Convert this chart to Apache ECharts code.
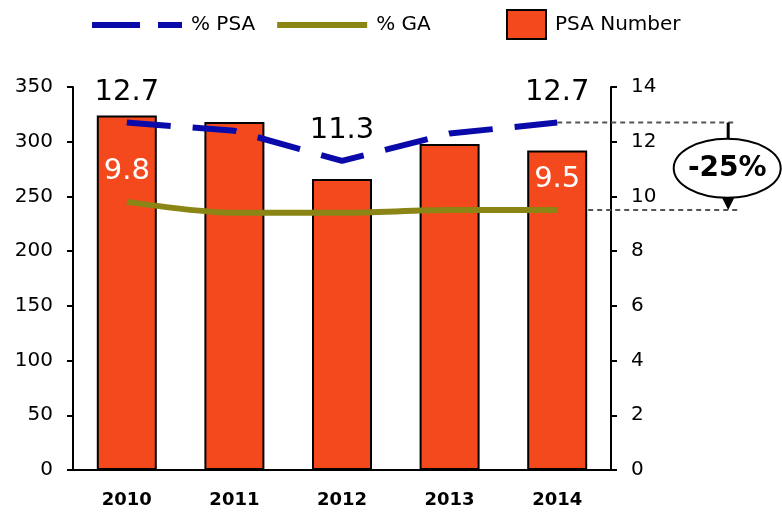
<!DOCTYPE html>
<html>
<head>
<meta charset="utf-8">
<script src="https://cdn.jsdelivr.net/npm/echarts@6/dist/echarts.min.js"></script>
<style>
  html, body { margin: 0; padding: 0; background: #fff; }
  #chart { width: 782px; height: 513px; }
</style>
</head>
<body>
<div id="chart"></div>
<script>
// data
const years = ["2010", "2011", "2012", "2013", "2014"];
const psaNumber = [324, 318, 266, 298, 292];
const psaPct = [12.7, 12.4, 11.3, 12.3, 12.7];
const gaPct = [9.8, 9.4, 9.4, 9.5, 9.5];
// which points carry a value label
const psaLabelIdx = [0, 2, 4];
const gaLabelIdx = [0, 4];

const FONT = "DejaVu Sans";
const BLUE = "#0A0AAA";
const OLIVE = "#8B8516";
const chart = echarts.init(document.getElementById("chart"));

const axisLineStyle = { show: true, lineStyle: { color: "#000", width: 2 } };
const tickStyle = { show: true, length: 6, lineStyle: { color: "#000", width: 2 } };
const legendText = { fontFamily: FONT, fontSize: 20, color: "#000", padding: [0, 0, 0, 4] };

const pickLabel = (idx) => (p) =>
  idx.includes(p.dataIndex) ? Number(p.value).toFixed(1) : "";

const option = {
  animation: false,
  backgroundColor: "#fff",
  textStyle: { fontFamily: FONT },
  grid: { left: 73, right: 171, top: 87, bottom: 43, outerBoundsMode: "none" },
  legend: [
    {
      data: [
        { name: "% PSA", icon: "path://M0,0h48v6h-48z M66,0h24v6h-24z" },
        { name: "% GA", icon: "path://M0,0h90v6h-90z" },
      ],
      left: 87,
      top: 10,
      itemWidth: 90,
      itemHeight: 6,
      itemGap: 22,
      textStyle: legendText,
    },
    {
      data: [{ name: "PSA Number", icon: "rect" }],
      left: 501,
      top: 4,
      itemWidth: 39,
      itemHeight: 29,
      textStyle: legendText,
    },
  ],
  xAxis: {
    type: "category",
    data: years,
    axisLine: axisLineStyle,
    axisTick: { show: false },
    axisLabel: { fontFamily: FONT, fontSize: 18, fontWeight: "bold", color: "#000", margin: 21 },
  },
  yAxis: [
    {
      type: "value",
      min: 0,
      max: 350,
      interval: 50,
      axisLine: axisLineStyle,
      axisTick: tickStyle,
      splitLine: { show: false },
      axisLabel: { fontFamily: FONT, fontSize: 20, color: "#000", margin: 20 },
    },
    {
      type: "value",
      min: 0,
      max: 14,
      interval: 2,
      position: "right",
      axisLine: axisLineStyle,
      axisTick: tickStyle,
      splitLine: { show: false },
      axisLabel: { fontFamily: FONT, fontSize: 20, color: "#000", margin: 20 },
    },
  ],
  series: [
    {
      name: "PSA Number",
      type: "bar",
      data: psaNumber,
      barWidth: 60,
      itemStyle: { color: "#F4491C", borderColor: "#000", borderWidth: 2 },
    },
    {
      name: "% PSA",
      type: "line",
      yAxisIndex: 1,
      data: psaPct,
      symbol: "circle",
      symbolSize: 0,
      z: 3,
      lineStyle: { color: BLUE, width: 6, type: [44, 22], cap: "butt" },
      itemStyle: { color: BLUE },
      label: {
        show: true,
        position: "top",
        distance: 16,
        fontFamily: FONT,
        fontSize: 29,
        color: "#000",
        formatter: pickLabel(psaLabelIdx),
      },
    },
    {
      name: "% GA",
      type: "line",
      yAxisIndex: 1,
      data: gaPct,
      symbol: "circle",
      symbolSize: 0,
      smooth: 0.3,
      z: 3,
      lineStyle: { color: OLIVE, width: 6, cap: "butt" },
      itemStyle: { color: OLIVE },
      label: {
        show: true,
        position: "top",
        distance: 16,
        fontFamily: FONT,
        fontSize: 29,
        color: "#fff",
        formatter: pickLabel(gaLabelIdx),
      },
    },
  ],
};

chart.setOption(option);

// drop annotation between last % PSA and last % GA point
const last = years.length - 1;
const pTop = chart.convertToPixel({ xAxisIndex: 0, yAxisIndex: 1 }, [last, psaPct[last]]);
const pBot = chart.convertToPixel({ xAxisIndex: 0, yAxisIndex: 1 }, [last, gaPct[last]]);
const axisRight = chart.convertToPixel({ xAxisIndex: 0 }, last) + 54;
const arrowX = axisRight + 117;
const lineEnd = arrowX + 9;
const barRight = pBot[0] + 31;
const midY = (pTop[1] + pBot[1]) / 2 + 2;
const drop = Math.round(((gaPct[last] - psaPct[last]) / psaPct[last]) * 100);

chart.setOption({
  graphic: [
    {
      type: "line",
      shape: { x1: pTop[0], y1: pTop[1], x2: lineEnd, y2: pTop[1] },
      style: { stroke: "#555", lineWidth: 2, lineDash: [5, 4] },
      z: 10,
    },
    {
      type: "line",
      shape: { x1: barRight, y1: pBot[1], x2: lineEnd, y2: pBot[1] },
      style: { stroke: "#555", lineWidth: 2, lineDash: [5, 4] },
      z: 10,
    },
    {
      type: "line",
      shape: { x1: arrowX, y1: pTop[1], x2: arrowX, y2: pBot[1] - 14 },
      style: { stroke: "#000", lineWidth: 3 },
      z: 11,
    },
    {
      type: "polygon",
      shape: {
        points: [
          [arrowX - 7.5, pBot[1] - 15],
          [arrowX + 7.5, pBot[1] - 15],
          [arrowX, pBot[1]],
        ],
      },
      style: { fill: "#000" },
      z: 11,
    },
    {
      type: "ellipse",
      shape: { cx: arrowX - 1, cy: midY, rx: 53.5, ry: 29.5 },
      style: { fill: "#fff", stroke: "#000", lineWidth: 2 },
      z: 12,
    },
    {
      type: "text",
      x: arrowX - 1,
      y: midY,
      style: {
        text: drop + "%",
        font: "bold 28px 'DejaVu Sans'",
        fill: "#000",
        align: "center",
        verticalAlign: "middle",
      },
      z: 13,
    },
  ],
});
</script>
</body>
</html>
